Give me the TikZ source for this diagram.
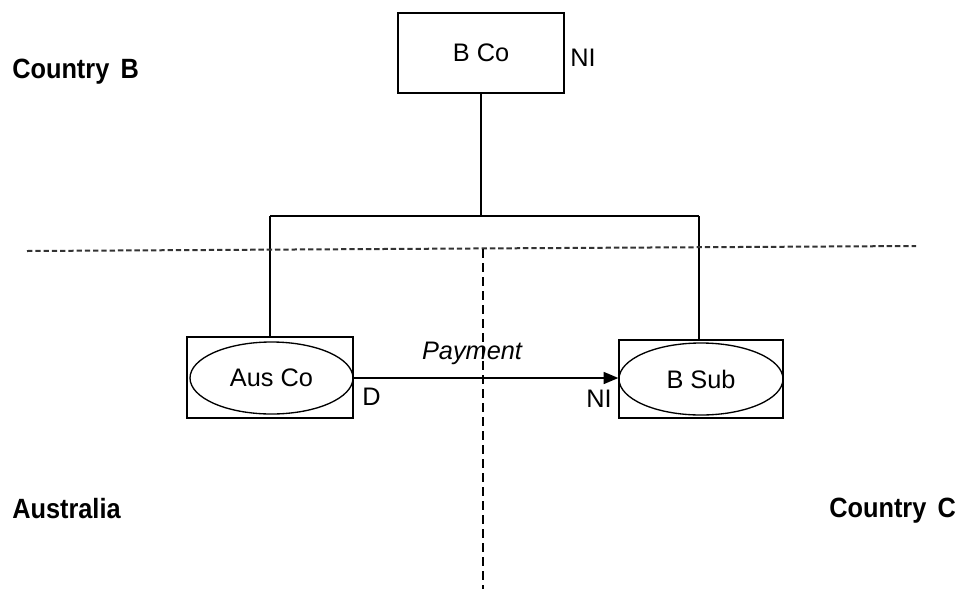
\documentclass[tikz,border=0pt]{standalone}
\usepackage{fontspec}
\setmainfont{Liberation Sans}
\usetikzlibrary{shapes.geometric,arrows.meta}
\begin{document}
\begin{tikzpicture}[x=0.75pt,y=-0.75pt,
  every node/.style={font=\fontsize{19}{22}\selectfont, inner sep=0pt},
  box/.style={draw, line width=1.1pt, rectangle},
  oval/.style={draw, line width=1pt, ellipse},
  lbl/.style={font=\fontsize{19}{22}\selectfont\bfseries},
  conn/.style={line width=1.1pt},
  hdash/.style={line width=1.5pt, draw=black!80, dash pattern=on 4pt off 2.2pt},
  vdash/.style={line width=1pt, dash pattern=on 6.5pt off 4pt}]
\useasboundingbox (0,0) rectangle (957,590);
% boxes
\node[box, minimum width=166*0.75pt, minimum height=80*0.75pt] (bco) at (481,53) {B Co};
\node[anchor=west] (ni1) at (570,58) {NI};
\node[box, minimum width=166*0.75pt, minimum height=81*0.75pt] (ausbox) at (270,377.5) {};
\node[oval, minimum width=163*0.75pt, minimum height=72*0.75pt] (aus) at (271.5,378) {Aus Co};
\node[box, minimum width=164*0.75pt, minimum height=78*0.75pt] (bsubbox) at (701,379) {};
\node[oval, minimum width=164*0.75pt, minimum height=72*0.75pt] (bsub) at (701,379) {B Sub};
% labels
\node[anchor=west, lbl] (cb) at (12,72) {\scalebox{1}[1.1]{Country\, B}};
\node[anchor=west, lbl] (au) at (12,509) {\scalebox{1}[1.1]{Australia}};
\node[anchor=west, lbl] (cc) at (829,511) {\scalebox{1}[1.1]{Country\, C}};
\node[anchor=west] (d) at (362,397) {D};
\node[anchor=east] (ni2) at (612,399) {NI};
\node (pay) at (472,353) {\itshape Payment};
% tree connectors
\coordinate (top) at (481,216);
\coordinate (tl) at (270,216);
\coordinate (tr) at (699,216);
\draw[conn] (bco.south) -- (top);
\draw[conn] (tl) -- (tr);
\draw[conn] (tl) -- (tl |- ausbox.north);
\draw[conn] (tr) -- (tr |- bsubbox.north);
% payment arrow
\draw[conn, -{Triangle[length=11pt,width=9pt]}] (aus.east) -- (aus.east -| bsub.west);
% dashed borders
\coordinate (h1) at (27,251);
\coordinate (h2) at (916,246);
\coordinate (v1) at (483,249);
\coordinate (v2) at (483,589);
\draw[hdash] (h1) -- (h2);
\draw[vdash] (v1) -- (v2);
\end{tikzpicture}
\end{document}
